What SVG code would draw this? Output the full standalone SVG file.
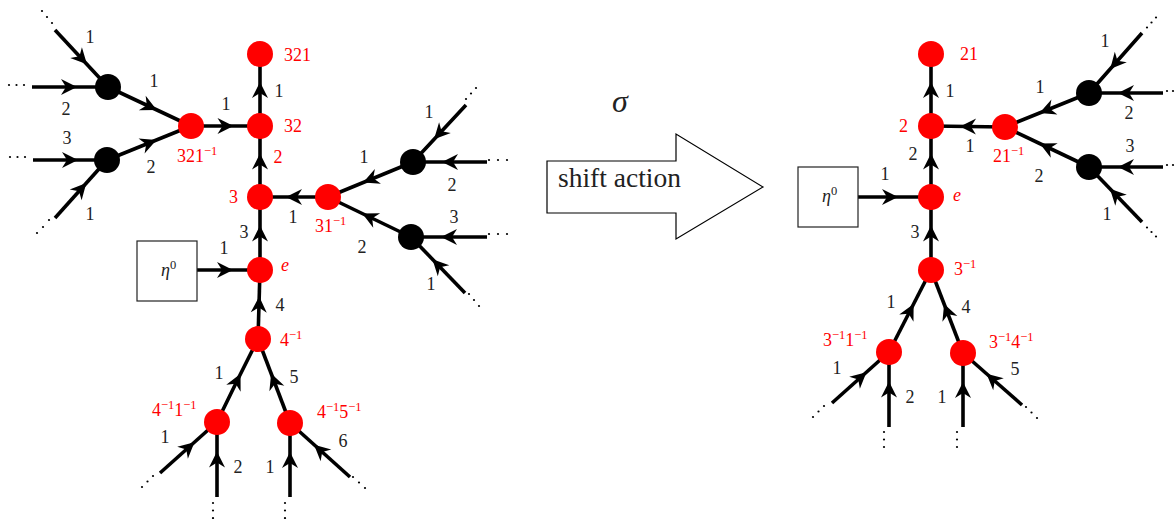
<svg xmlns="http://www.w3.org/2000/svg" width="1175" height="519" viewBox="0 0 1175 519" font-family="Liberation Serif">
<style>
.e{fill:none;stroke:#000;stroke-width:3.6;marker-mid:url(#ah)}
.rn{fill:#ff0000}
.bn{fill:#000}
.box{fill:#fff;stroke:#222;stroke-width:1.2}
.t{font-size:18px;fill:#222}
.m{text-anchor:middle}
.r{fill:#ff0000}
.s{font-size:12.5px}
.i{font-style:italic}
.d{fill:#000}
</style>
<defs>
<marker id="ah" markerUnits="userSpaceOnUse" markerWidth="20" markerHeight="20" viewBox="-10 -10 20 20" refX="0" refY="0" orient="auto" overflow="visible">
<path d="M8,0 L-8,-8 L-3,0 L-8,8 Z" fill="#000"/>
</marker>
</defs>
<rect width="1175" height="519" fill="#fff"/>

<g id="connectors">
<path class="e" d="M108,87 L149.5,106.5 L191,126"/>
<path class="e" d="M107,160 L149,143 L191,126"/>
<path class="e" d="M191,126 L225.5,126 L260,126"/>
<path class="e" d="M260,126 L260,90 L260,54"/>
<path class="e" d="M260,197 L260,161.5 L260,126"/>
<path class="e" d="M260,270 L260,233.5 L260,197"/>
<path class="e" d="M258,339 L259,304.5 L260,270"/>
<path class="e" d="M328,197 L294,197 L260,197"/>
<path class="e" d="M413,162 L370.5,179.5 L328,197"/>
<path class="e" d="M411,237 L369.5,217 L328,197"/>
<path class="e" d="M197,270 L225,270 L260,270"/>
<path class="e" d="M217,422 L237,381 L258,339"/>
<path class="e" d="M290,423 L274,381 L258,339"/>
<path class="e" d="M55,30 L81.5,58.5 L108,87"/>
<path class="e" d="M32,87 L69,87 L108,87"/>
<path class="e" d="M33,160 L70,160 L107,160"/>
<path class="e" d="M55,218 L81,189 L107,160"/>
<path class="e" d="M466,105 L439.5,133.5 L413,162"/>
<path class="e" d="M487,162 L450,162 L413,162"/>
<path class="e" d="M487,237 L449,237 L411,237"/>
<path class="e" d="M465,293 L438,265 L411,237"/>
<path class="e" d="M160,473 L188.5,447.5 L217,422"/>
<path class="e" d="M217,497 L217,459.5 L217,422"/>
<path class="e" d="M290,497 L290,460 L290,423"/>
<path class="e" d="M350,477 L320,450 L290,423"/>
<path class="e" d="M931,126 L931,90 L931,54"/>
<path class="e" d="M931,197 L931,161.5 L931,126"/>
<path class="e" d="M931,270 L931,233.5 L931,197"/>
<path class="e" d="M1005,127 L968,126.5 L931,126"/>
<path class="e" d="M1089,93 L1047,110 L1005,127"/>
<path class="e" d="M1089,167 L1047,147 L1005,127"/>
<path class="e" d="M858,197 L890,197 L931,197"/>
<path class="e" d="M889,352 L910,311 L931,270"/>
<path class="e" d="M963,353 L947,311.5 L931,270"/>
<path class="e" d="M1142,33 L1115.5,63 L1089,93"/>
<path class="e" d="M1163,93 L1126,93 L1089,93"/>
<path class="e" d="M1163,167 L1126,167 L1089,167"/>
<path class="e" d="M1142,222 L1115.5,194.5 L1089,167"/>
<path class="e" d="M832,403 L860.5,377.5 L889,352"/>
<path class="e" d="M889,427 L889,389.5 L889,352"/>
<path class="e" d="M963,427 L963,390 L963,353"/>
<path class="e" d="M1022,405 L992.5,379 L963,353"/>
</g>

<g id="ellipses" class="d">
<circle cx="52" cy="23" r="1.1"/><circle cx="47" cy="17" r="1.1"/><circle cx="42" cy="11" r="1.1"/>
<circle cx="9" cy="85" r="1.1"/><circle cx="16.5" cy="85" r="1.1"/><circle cx="24" cy="85" r="1.1"/>
<circle cx="10" cy="157" r="1.1"/><circle cx="17.5" cy="157" r="1.1"/><circle cx="25" cy="157" r="1.1"/>
<circle cx="49" cy="220" r="1.1"/><circle cx="43" cy="227" r="1.1"/><circle cx="37" cy="233" r="1.1"/>
<circle cx="466" cy="99" r="1.1"/><circle cx="471" cy="93.5" r="1.1"/><circle cx="476" cy="88" r="1.1"/>
<circle cx="489" cy="160" r="1.1"/><circle cx="498" cy="160" r="1.1"/><circle cx="507" cy="160" r="1.1"/>
<circle cx="489" cy="234" r="1.1"/><circle cx="498" cy="234" r="1.1"/><circle cx="507" cy="234" r="1.1"/>
<circle cx="469" cy="294" r="1.1"/><circle cx="474" cy="300" r="1.1"/><circle cx="479" cy="306" r="1.1"/>
<circle cx="153" cy="476" r="1.1"/><circle cx="147.5" cy="481.5" r="1.1"/><circle cx="142" cy="487" r="1.1"/>
<circle cx="213" cy="503" r="1.1"/><circle cx="213" cy="510.5" r="1.1"/><circle cx="213" cy="518" r="1.1"/>
<circle cx="285" cy="503" r="1.1"/><circle cx="285" cy="510.5" r="1.1"/><circle cx="285" cy="518" r="1.1"/>
<circle cx="353" cy="477" r="1.1"/><circle cx="359" cy="482.5" r="1.1"/><circle cx="365" cy="488" r="1.1"/>
<circle cx="1147" cy="27.5" r="1.1"/><circle cx="1151.5" cy="22.5" r="1.1"/><circle cx="1156" cy="17.5" r="1.1"/>
<circle cx="1167" cy="91" r="1.1"/><circle cx="1173" cy="91" r="1.1"/>
<circle cx="1167" cy="165" r="1.1"/><circle cx="1173" cy="165" r="1.1"/>
<circle cx="1147" cy="227.5" r="1.1"/><circle cx="1151.5" cy="232" r="1.1"/><circle cx="1156" cy="236.5" r="1.1"/>
<circle cx="824" cy="406" r="1.1"/><circle cx="818.5" cy="411.5" r="1.1"/><circle cx="813" cy="417" r="1.1"/>
<circle cx="884" cy="432" r="1.1"/><circle cx="884" cy="439.5" r="1.1"/><circle cx="884" cy="447" r="1.1"/>
<circle cx="957" cy="432" r="1.1"/><circle cx="957" cy="439.5" r="1.1"/><circle cx="957" cy="447" r="1.1"/>
<circle cx="1026" cy="407" r="1.1"/><circle cx="1031.5" cy="412.5" r="1.1"/><circle cx="1037" cy="418" r="1.1"/>
</g>

<g id="edge-labels" class="t m">
<text x="90" y="43">1</text>
<text x="66" y="115">2</text>
<text x="154" y="87">1</text>
<text x="226" y="110">1</text>
<text x="67" y="144">3</text>
<text x="151" y="173">2</text>
<text x="90" y="220">1</text>
<text x="279" y="97">1</text>
<text x="278" y="163" class="r">2</text>
<text x="244" y="238">3</text>
<text x="224" y="254">1</text>
<text x="280" y="311">4</text>
<text x="293" y="223">1</text>
<text x="364" y="163">1</text>
<text x="429" y="118">1</text>
<text x="452" y="191">2</text>
<text x="362" y="253">2</text>
<text x="454" y="223">3</text>
<text x="431" y="290">1</text>
<text x="219" y="379">1</text>
<text x="294" y="383">5</text>
<text x="165" y="443">1</text>
<text x="238" y="473">2</text>
<text x="270" y="473">1</text>
<text x="343" y="447">6</text>
<text x="950" y="97">1</text>
<text x="913" y="160">2</text>
<text x="970" y="152">1</text>
<text x="1040" y="93">1</text>
<text x="1105" y="47">1</text>
<text x="1129" y="119">2</text>
<text x="1039" y="182">2</text>
<text x="1130" y="152">3</text>
<text x="1107" y="220">1</text>
<text x="885" y="180">1</text>
<text x="915" y="238">3</text>
<text x="891" y="308">1</text>
<text x="966" y="313">4</text>
<text x="837" y="374">1</text>
<text x="910" y="403">2</text>
<text x="942" y="403">1</text>
<text x="1015" y="375">5</text>
</g>

<g id="n321"><circle class="rn" cx="260" cy="54" r="13"/><text class="t r" x="284" y="61">321</text></g>
<g id="n32"><circle class="rn" cx="260" cy="126" r="13"/><text class="t r" x="284" y="132">32</text></g>
<g id="n3"><circle class="rn" cx="260" cy="197" r="13"/><text class="t r" x="229" y="203">3</text></g>
<g id="ne"><circle class="rn" cx="260" cy="270" r="13"/><text class="t r i" x="281" y="271">e</text></g>
<g id="n4i"><circle class="rn" cx="258" cy="339" r="13"/><text class="t r" x="280" y="346">4<tspan class="s" dy="-7">−1</tspan></text></g>
<g id="n4i1i"><circle class="rn" cx="217" cy="422" r="13"/><text class="t r" x="152" y="416">4<tspan class="s" dy="-7">−1</tspan><tspan dy="7">1</tspan><tspan class="s" dy="-7">−1</tspan></text></g>
<g id="n4i5i"><circle class="rn" cx="290" cy="423" r="13"/><text class="t r" x="317" y="418">4<tspan class="s" dy="-7">−1</tspan><tspan dy="7">5</tspan><tspan class="s" dy="-7">−1</tspan></text></g>
<g id="n321i"><circle class="rn" cx="191" cy="126" r="13"/><text class="t r" x="177" y="162">321<tspan class="s" dy="-7">−1</tspan></text></g>
<g id="n31i"><circle class="rn" cx="328" cy="197" r="13"/><text class="t r" x="315" y="232">31<tspan class="s" dy="-7">−1</tspan></text></g>
<g id="bA"><circle class="bn" cx="108" cy="87" r="13"/></g>
<g id="bB"><circle class="bn" cx="107" cy="160" r="13"/></g>
<g id="bC"><circle class="bn" cx="413" cy="162" r="13"/></g>
<g id="bD"><circle class="bn" cx="411" cy="237" r="13"/></g>
<g id="eta-left"><rect class="box" x="137" y="241" width="60" height="60"/><text class="t" x="161" y="276"><tspan class="i">η</tspan><tspan class="s" dy="-7">0</tspan></text></g>

<g id="shift">
<text class="t i m" x="620" y="112" style="font-size:32px">σ</text>
<path d="M547,161 L676,161 L676,134 L763,187 L676,239 L676,213 L547,213 Z" fill="#fff" stroke="#000" stroke-width="1.2"/>
<text class="t" x="558" y="187" style="font-size:27.5px">shift action</text>
</g>

<g id="r21"><circle class="rn" cx="931" cy="54" r="13"/><text class="t r" x="960" y="60">21</text></g>
<g id="r2"><circle class="rn" cx="931" cy="126" r="13"/><text class="t r" x="899" y="132">2</text></g>
<g id="re"><circle class="rn" cx="931" cy="197" r="13"/><text class="t r i" x="953" y="201">e</text></g>
<g id="r3i"><circle class="rn" cx="931" cy="270" r="13"/><text class="t r" x="954" y="275">3<tspan class="s" dy="-7">−1</tspan></text></g>
<g id="r3i1i"><circle class="rn" cx="889" cy="352" r="13"/><text class="t r" x="823" y="346">3<tspan class="s" dy="-7">−1</tspan><tspan dy="7">1</tspan><tspan class="s" dy="-7">−1</tspan></text></g>
<g id="r3i4i"><circle class="rn" cx="963" cy="353" r="13"/><text class="t r" x="989" y="348">3<tspan class="s" dy="-7">−1</tspan><tspan dy="7">4</tspan><tspan class="s" dy="-7">−1</tspan></text></g>
<g id="r21i"><circle class="rn" cx="1005" cy="127" r="13"/><text class="t r" x="993" y="162">21<tspan class="s" dy="-7">−1</tspan></text></g>
<g id="bE"><circle class="bn" cx="1089" cy="93" r="13"/></g>
<g id="bF"><circle class="bn" cx="1089" cy="167" r="13"/></g>
<g id="eta-right"><rect class="box" x="798" y="167" width="60" height="60"/><text class="t" x="822" y="202"><tspan class="i">η</tspan><tspan class="s" dy="-7">0</tspan></text></g>
</svg>
